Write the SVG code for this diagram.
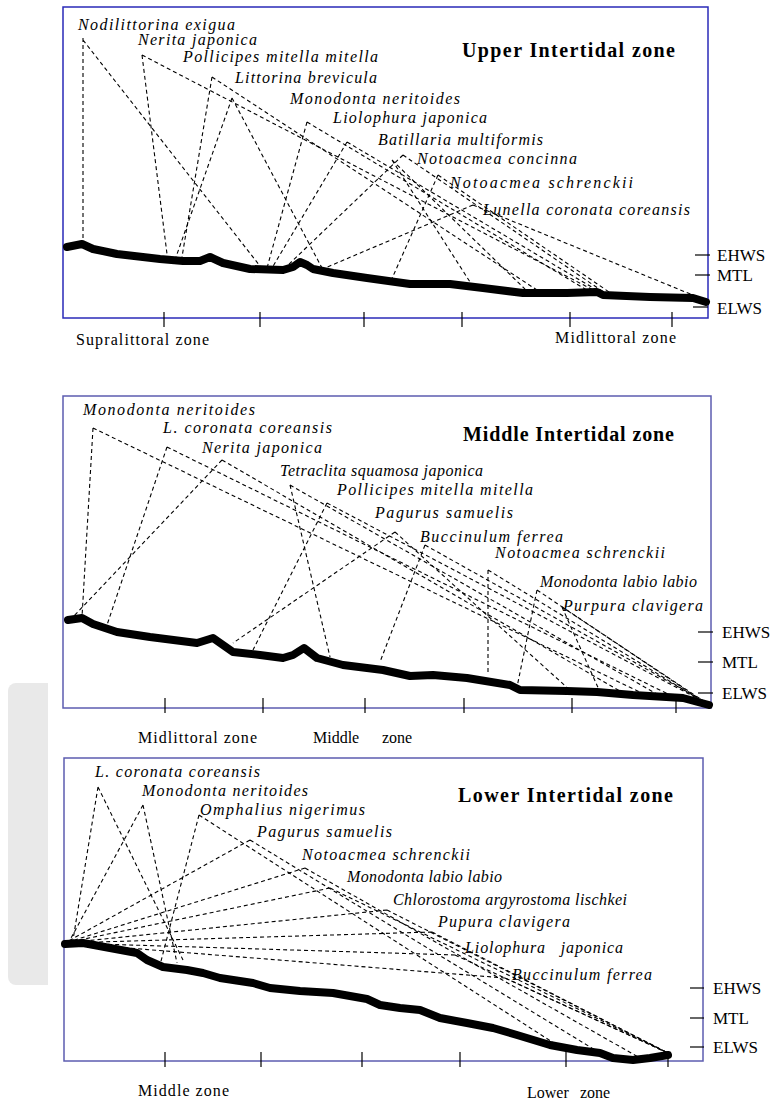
<svg xmlns="http://www.w3.org/2000/svg" width="771" height="1099" viewBox="0 0 771 1099">
<style>
.f1{fill:none;stroke:#2a2ab8;stroke-width:1.5}
.f2{fill:none;stroke:#5c5cb0;stroke-width:1.5}
.tk{stroke:#000;stroke-width:1.2}
.pr{fill:none;stroke:#000;stroke-width:8;stroke-linejoin:round;stroke-linecap:round}
.d{fill:none;stroke:#000;stroke-width:1.1;stroke-dasharray:4 3}
.sp{font-family:"Liberation Serif",serif;font-style:italic;font-size:16px}
.tt{font-family:"Liberation Serif",serif;font-weight:bold;font-size:20px}
.ax{font-family:"Liberation Serif",serif;font-size:16px}
.lv{font-family:"Liberation Serif",serif;font-size:17px}
</style>
<rect width="771" height="1099" fill="#fff"/>
<rect x="8" y="683" width="60" height="302" rx="8" fill="#e9e9e9"/>
<rect x="48" y="678" width="20" height="340" fill="#fff"/>

<g id="panel-upper">
<rect class="f1" x="63" y="7" width="645" height="311"/>
<text class="tt" x="462" y="57" textLength="213">Upper Intertidal zone</text>
<path class="pr" d="M67,247 L82,244 L93,249 L117,254 L160,259 L183,261 L200,261 L210,257 L223,263 L250,269 L283,270 L293,267 L300,262 L307,265 L313,269 L333,273 L367,278 L410,284 L450,284 L483,288 L523,293 L567,293 L597,292 L603,295 L650,297 L693,298 L706,302"/>
<g class="tk"><line x1="164" y1="312" x2="164" y2="327"/><line x1="260" y1="312" x2="260" y2="327"/><line x1="364" y1="312" x2="364" y2="327"/><line x1="462" y1="312" x2="462" y2="327"/><line x1="570" y1="312" x2="570" y2="327"/><line x1="672" y1="312" x2="672" y2="327"/>
<line x1="695" y1="255" x2="710" y2="255"/><line x1="695" y1="275" x2="710" y2="275"/><line x1="693" y1="307" x2="708" y2="307"/></g>
<text class="lv" x="717" y="261">EHWS</text><text class="lv" x="717" y="281">MTL</text><text class="lv" x="717" y="314">ELWS</text>
<text class="ax" x="76" y="345" textLength="133">Supralittoral zone</text>
<text class="ax" x="555" y="343" textLength="121">Midlittoral zone</text>
</g>

<g id="labels-upper" class="sp">
<text x="78" y="30" textLength="157">Nodilittorina exigua</text>
<text x="138" y="45" textLength="119">Nerita japonica</text>
<text x="183" y="62" textLength="195">Pollicipes mitella mitella</text>
<text x="235" y="83" textLength="142">Littorina brevicula</text>
<text x="290" y="104" textLength="170">Monodonta neritoides</text>
<text x="333" y="123" textLength="154">Liolophura japonica</text>
<text x="378" y="145" textLength="165">Batillaria multiformis</text>
<text x="417" y="164" textLength="160">Notoacmea concinna</text>
<text x="450" y="188" textLength="183">Notoacmea schrenckii</text>
<text x="483" y="215" textLength="207">Lunella coronata coreansis</text>
</g>

<g id="connectors-upper" class="d">
<path d="M83,38 L83,240 M83,40 L260,266"/>
<path d="M142,55 L167,254 M142,55 L597,292"/>
<path d="M212,77 L182,257 M212,77 L540,292"/>
<path d="M232,98 L176,257 M232,98 L322,268"/>
<path d="M307,122 L267,268 M307,122 L590,292"/>
<path d="M347,142 L272,268 M347,142 L600,292"/>
<path d="M392,160 L470,282 M392,160 L527,291"/>
<path d="M403,155 L285,268 M403,155 L605,293"/>
<path d="M438,175 L390,283 M438,175 L612,294"/>
<path d="M473,205 L325,268 M473,205 L700,298"/>
</g>

<g id="panel-middle">
<rect class="f2" x="63" y="396" width="648" height="312"/>
<text class="tt" x="463" y="441" textLength="211">Middle Intertidal zone</text>
<path class="pr" d="M68,620 L82,618 L93,624 L117,632 L150,637 L197,643 L213,638 L233,652 L260,655 L283,658 L293,655 L304,648 L317,658 L343,665 L383,670 L410,676 L433,675 L467,678 L510,685 L520,690 L567,691 L597,692 L633,695 L683,698 L709,705"/>
<g class="tk"><line x1="165" y1="698" x2="165" y2="713"/><line x1="263" y1="698" x2="263" y2="713"/><line x1="365" y1="698" x2="365" y2="713"/><line x1="464" y1="698" x2="464" y2="713"/><line x1="572" y1="698" x2="572" y2="713"/><line x1="676" y1="698" x2="676" y2="713"/>
<line x1="698" y1="632" x2="713" y2="632"/><line x1="698" y1="662" x2="713" y2="662"/><line x1="698" y1="693" x2="713" y2="693"/></g>
<text class="lv" x="722" y="638">EHWS</text><text class="lv" x="722" y="668">MTL</text><text class="lv" x="722" y="699">ELWS</text>
<text class="ax" x="138" y="743" textLength="119">Midlittoral zone</text>
<text class="ax" x="313" y="743">Middle</text><text class="ax" x="382" y="743">zone</text>
</g>

<g id="labels-middle" class="sp">
<text x="83" y="415" textLength="172">Monodonta neritoides</text>
<text x="163" y="433" textLength="169">L. coronata coreansis</text>
<text x="202" y="453" textLength="120">Nerita japonica</text>
<text x="280" y="476" textLength="203">Tetraclita squamosa japonica</text>
<text x="337" y="495" textLength="196">Pollicipes mitella mitella</text>
<text x="375" y="518" textLength="138">Pagurus samuelis</text>
<text x="420" y="542" textLength="143">Buccinulum ferrea</text>
<text x="495" y="558" textLength="170">Notoacmea schrenckii</text>
<text x="540" y="587" textLength="157">Monodonta labio labio</text>
<text x="563" y="611" textLength="140">Purpura clavigera</text>
</g>

<g id="connectors-middle" class="d">
<path d="M93,428 L82,617 M93,428 L650,697"/>
<path d="M167,447 L107,625 M167,447 L680,700"/>
<path d="M222,460 L73,617 M222,460 L625,694"/>
<path d="M290,485 L330,657 M290,485 L662,697"/>
<path d="M327,503 L253,650 M327,503 L706,703"/>
<path d="M395,532 L233,643 M395,532 L572,692"/>
<path d="M425,545 L380,662 M425,545 L707,703"/>
<path d="M488,570 L488,673 M488,570 L707,704"/>
<path d="M537,590 L517,687 M537,590 L707,704"/>
<path d="M562,607 L600,692 M562,607 L708,704"/>
</g>

<g id="panel-lower">
<rect class="f2" x="64" y="758" width="639" height="303"/>
<text class="tt" x="458" y="802" textLength="215">Lower Intertidal zone</text>
<path class="pr" d="M65,944 L83,943 L110,948 L137,953 L147,960 L163,967 L187,970 L203,973 L220,978 L253,983 L270,988 L300,991 L333,993 L350,996 L367,999 L380,1005 L400,1008 L420,1010 L440,1018 L467,1023 L493,1028 L517,1035 L550,1045 L577,1050 L600,1053 L613,1058 L633,1060 L650,1058 L668,1055"/>
<g class="tk"><line x1="165" y1="1052" x2="165" y2="1067"/><line x1="261" y1="1052" x2="261" y2="1067"/><line x1="362" y1="1052" x2="362" y2="1067"/><line x1="460" y1="1052" x2="460" y2="1067"/><line x1="566" y1="1052" x2="566" y2="1067"/><line x1="668" y1="1052" x2="668" y2="1067"/>
<line x1="690" y1="988" x2="704" y2="988"/><line x1="690" y1="1018" x2="704" y2="1018"/><line x1="690" y1="1047" x2="704" y2="1047"/></g>
<text class="lv" x="713" y="994">EHWS</text><text class="lv" x="713" y="1024">MTL</text><text class="lv" x="713" y="1053">ELWS</text>
<text class="ax" x="138" y="1096" textLength="91">Middle zone</text>
<text class="ax" x="527" y="1098">Lower</text><text class="ax" x="580" y="1098">zone</text>
</g>

<g id="labels-lower" class="sp">
<text x="95" y="777" textLength="165">L. coronata coreansis</text>
<text x="142" y="796" textLength="166">Monodonta neritoides</text>
<text x="200" y="815" textLength="165">Omphalius nigerimus</text>
<text x="257" y="837" textLength="135">Pagurus samuelis</text>
<text x="302" y="860" textLength="168">Notoacmea schrenckii</text>
<text x="347" y="882" textLength="155">Monodonta labio labio</text>
<text x="393" y="905" textLength="234">Chlorostoma argyrostoma lischkei</text>
<text x="438" y="927" textLength="132">Pupura clavigera</text>
<text x="465" y="953" textLength="158" xml:space="preserve">Liolophura   japonica</text>
<text x="512" y="980" textLength="140">Buccinulum ferrea</text>
</g>

<g id="connectors-lower" class="d">
<path d="M98,787 L73,940 M98,787 L183,960"/>
<path d="M143,805 L70,940 M143,805 L177,963"/>
<path d="M199,815 L160,965 M199,815 L560,1047"/>
<path d="M250,840 L65,943 M250,840 L600,1053"/>
<path d="M305,868 L65,943 M305,868 L640,1058"/>
<path d="M330,888 L65,943 M330,888 L668,1053"/>
<path d="M387,910 L65,943 M387,910 L668,1053"/>
<path d="M432,932 L65,943 M432,932 L668,1053"/>
<path d="M455,955 L65,943 M455,955 L668,1053"/>
<path d="M505,978 L65,943 M505,978 L668,1053"/>
</g>
</svg>
